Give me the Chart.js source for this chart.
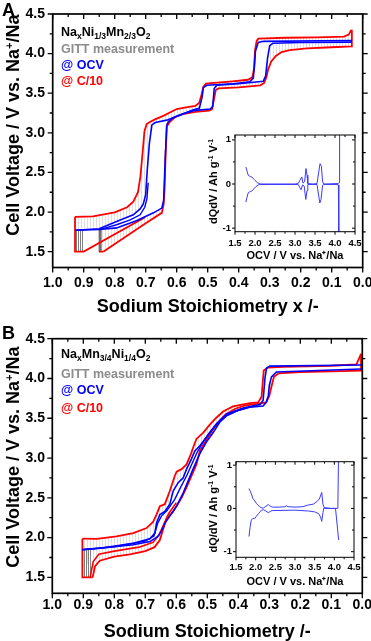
<!DOCTYPE html>
<html>
<head>
<meta charset="utf-8">
<script src="https://cdn.jsdelivr.net/npm/chart.js@4.4.1/dist/chart.umd.min.js"></script>
<style>
body{margin:0;background:#fff;}
#fig{position:relative;width:371px;height:641px;overflow:hidden;font-family:"Liberation Sans",Arial,sans-serif;font-weight:bold;color:#000;}
canvas{position:absolute;}
.leg{position:absolute;left:61px;white-space:nowrap;font-size:12.5px;line-height:14px;}
.leg sub{font-size:8.5px;line-height:0;vertical-align:-3px;}
.panel{position:absolute;left:2px;font-size:18px;line-height:18px;}
.yt{position:absolute;white-space:nowrap;text-align:center;transform:rotate(-90deg);}
.yt sup{font-size:0.62em;line-height:0;vertical-align:0.55em;}
</style>
</head>
<body>
<div id="fig">
  <canvas id="mainA" width="371" height="320" style="left:0;top:0"></canvas>
  <canvas id="insA" width="165" height="135" style="left:200px;top:128px"></canvas>
  <canvas id="mainB" width="371" height="321" style="left:0;top:320px"></canvas>
  <canvas id="insB" width="165" height="135" style="left:200px;top:454px"></canvas>

  <div class="panel" style="top:0.5px">A</div>
  <div class="leg" style="top:24.8px">Na<sub>x</sub>Ni<sub>1/3</sub>Mn<sub>2/3</sub>O<sub>2</sub></div>
  <div class="leg" style="top:41.5px;color:#8c8c8c">GITT measurement</div>
  <div class="leg" style="top:58.1px;color:#0000ff">@ OCV</div>
  <div class="leg" style="top:74.1px;color:#ff0000">@ C/10</div>
  <div class="yt" style="left:-117px;top:115px;width:260px;height:20px;line-height:20px;font-size:18px">Cell Voltage / V vs. Na<sup>+</sup>/Na</div>
  <div class="yt" style="left:158px;top:174.5px;width:110px;height:13px;line-height:13px;font-size:11px">dQdV / Ah g<sup>-1</sup> V<sup>-1</sup></div>

  <div class="panel" style="top:323.7px">B</div>
  <div class="leg" style="top:346.5px">Na<sub>x</sub>Mn<sub>3/4</sub>Ni<sub>1/4</sub>O<sub>2</sub></div>
  <div class="leg" style="top:366.5px;color:#8c8c8c">GITT measurement</div>
  <div class="leg" style="top:383.2px;color:#0000ff">@ OCV</div>
  <div class="leg" style="top:400.5px;color:#ff0000">@ C/10</div>
  <div class="yt" style="left:-117px;top:447px;width:260px;height:20px;line-height:20px;font-size:18px">Cell Voltage / V vs. Na<sup>+</sup>/Na</div>
  <div class="yt" style="left:158px;top:501.5px;width:110px;height:13px;line-height:13px;font-size:11px">dQ/dV / Ah g<sup>-1</sup> V<sup>-1</sup></div>
</div>
<script>
// tick labels
const stoichTicks = [0, 0.1, 0.2, 0.3, 0.4, 0.5, 0.6, 0.7, 0.8, 0.9, 1.0];
const voltTicks = [1.5, 2.0, 2.5, 3.0, 3.5, 4.0, 4.5];
const ocvTicks = [1.5, 2.0, 2.5, 3.0, 3.5, 4.0, 4.5];
const dqTicks = [-1, 0, 1];

// ---- panel A : NaxNi1/3Mn2/3O2 ----
const aRedChgX = [0.928,0.870,0.800,0.760,0.740,0.725,0.717,0.710,0.704,0.697,0.685,0.670,0.640,0.600,0.570,0.540,0.527,0.520,0.514,0.506,0.480,0.420,0.370,0.356,0.351,0.347,0.342,0.337,0.250,0.150,0.060,0.045,0.037];
const aRedChgY = [1.94,1.945,1.995,2.06,2.13,2.25,2.45,2.75,3.02,3.11,3.14,3.17,3.22,3.30,3.32,3.34,3.38,3.48,3.58,3.62,3.63,3.65,3.67,3.70,3.80,4.05,4.16,4.19,4.20,4.205,4.215,4.24,4.30];
const aRedDisX = [0.035,0.035,0.100,0.180,0.235,0.262,0.280,0.295,0.305,0.311,0.318,0.330,0.400,0.465,0.474,0.480,0.486,0.495,0.540,0.580,0.605,0.622,0.632,0.636,0.639,0.642,0.648,0.700,0.837];
const aRedDisY = [4.30,4.09,4.08,4.065,4.045,4.02,3.97,3.90,3.80,3.70,3.63,3.60,3.575,3.56,3.54,3.42,3.30,3.28,3.265,3.235,3.20,3.14,3.08,2.70,2.30,2.10,1.99,1.86,1.50];
const aRedStartX = [0.702,0.900,0.928,0.928];
const aRedStartY = [1.935,1.50,1.50,1.94];
const aRedTailX = [0.837,0.851];
const aRedTailY = [1.50,1.50];
const aBlueChgX = [0.928,0.850,0.794,0.740,0.718,0.708,0.700,0.695,0.688,0.680,0.669,0.632,0.600,0.546,0.527,0.518,0.514,0.503,0.417,0.364,0.353,0.349,0.346,0.337,0.320,0.035];
const aBlueChgY = [1.77,1.79,1.88,1.965,2.04,2.10,2.22,2.53,2.87,3.10,3.13,3.16,3.21,3.29,3.31,3.45,3.57,3.60,3.62,3.645,3.69,3.85,4.03,4.14,4.155,4.165];
const aBlueDisX = [0.035,0.200,0.290,0.300,0.307,0.313,0.321,0.400,0.471,0.479,0.484,0.492,0.546,0.578,0.611,0.627,0.632,0.637,0.642,0.648,0.675,0.730,0.794,0.850,0.928];
const aBlueDisY = [4.145,4.14,4.13,4.10,3.94,3.72,3.65,3.62,3.60,3.56,3.33,3.30,3.28,3.24,3.19,3.14,3.10,2.68,2.15,2.05,1.99,1.89,1.80,1.78,1.77];
const aBlueFirstX = [0.851,0.794,0.750,0.718,0.703,0.696,0.692];
const aBlueFirstY = [1.775,1.84,1.90,1.965,2.06,2.17,2.37];
const aRelaxX = [0.928,0.900];
const aRelaxY = [1.77,1.775];
const aRelaxLineX = [0.847,0.847];
const aRelaxLineY = [1.50,1.78];
// inset A : dQ/dV vs OCV
const aDqChgV = [1.77,1.80,1.83,1.88,1.92,1.97,2.00,2.06,2.13,2.50,3.00,3.08,3.12,3.17,3.20,3.24,3.275,3.30,3.32,3.45,3.55,3.59,3.625,3.66,3.69,3.72,4.08,4.105,4.115];
const aDqChg = [0.385,0.30,0.20,0.17,0.16,0.11,0.08,0.03,0.0,0.0,0.0,0.01,0.08,0.16,0.02,0.05,0.35,0.2,0.01,0.0,0.01,0.25,0.46,0.40,0.05,0.0,0.01,0.03,1.5];
const aDqDisV = [1.77,1.80,1.83,1.88,1.92,1.97,2.02,2.08,2.13,2.50,3.00,3.08,3.12,3.15,3.19,3.23,3.27,3.30,3.32,3.55,3.59,3.62,3.65,3.69,3.72,4.05,4.085,4.095];
const aDqDis = [-0.41,-0.30,-0.20,-0.17,-0.16,-0.11,-0.06,-0.02,-0.01,-0.01,-0.01,-0.01,-0.08,-0.13,-0.02,-0.05,-0.35,-0.15,-0.01,-0.01,-0.25,-0.43,-0.35,-0.03,-0.01,-0.01,-0.02,-1.5];

// ---- panel B : NaxMn3/4Ni1/4O2 ----
const bRedChgX = [0.903,0.857,0.793,0.739,0.696,0.675,0.664,0.653,0.637,0.621,0.605,0.599,0.583,0.567,0.553,0.543,0.535,0.513,0.492,0.470,0.449,0.417,0.363,0.336,0.325,0.318,0.304,0.255,0.100,0.019,0.004];
const bRedChgY = [1.986,1.985,2.015,2.057,2.12,2.196,2.29,2.395,2.42,2.585,2.775,2.83,2.86,2.92,3.05,3.16,3.24,3.32,3.42,3.51,3.585,3.65,3.69,3.70,3.77,4.10,4.138,4.146,4.16,4.176,4.31];
const bRedDisX = [0.004,0.004,0.100,0.200,0.270,0.285,0.293,0.300,0.310,0.340,0.380,0.410,0.440,0.460,0.480,0.500,0.515,0.524,0.535,0.551,0.567,0.583,0.610,0.632,0.643,0.653,0.670,0.700,0.750,0.800,0.847,0.862,0.870];
const bRedDisY = [4.31,4.10,4.09,4.08,4.065,4.02,3.90,3.78,3.70,3.68,3.66,3.62,3.55,3.47,3.37,3.25,3.15,3.09,2.92,2.775,2.63,2.50,2.33,2.23,2.10,1.97,1.88,1.83,1.79,1.76,1.71,1.64,1.50];
const bRedDis2X = [0.600,0.625,0.640,0.655,0.675,0.720,0.800,0.850,0.868,0.878];
const bRedDis2Y = [2.44,2.30,2.17,2.04,1.94,1.88,1.83,1.79,1.70,1.50];
const bRedEdgeX = [0.870,0.903,0.903];
const bRedEdgeY = [1.50,1.50,1.986];
const bBlueChgX = [0.903,0.847,0.739,0.685,0.669,0.664,0.653,0.637,0.621,0.610,0.594,0.578,0.567,0.551,0.540,0.524,0.503,0.470,0.438,0.384,0.330,0.320,0.314,0.309,0.298,0.004];
const bBlueChgY = [1.847,1.867,1.93,1.986,2.057,2.18,2.29,2.33,2.42,2.585,2.69,2.75,2.86,2.99,3.09,3.155,3.26,3.43,3.555,3.63,3.673,3.724,4.00,4.13,4.155,4.17];
const bBlueDisX = [0.004,0.277,0.293,0.300,0.303,0.310,0.320,0.363,0.406,0.438,0.460,0.481,0.503,0.524,0.546,0.562,0.578,0.599,0.621,0.637,0.648,0.659,0.685,0.739,0.847,0.903];
const bBlueDisY = [4.12,4.082,4.02,3.914,3.787,3.70,3.655,3.64,3.59,3.53,3.45,3.32,3.20,3.055,2.86,2.71,2.56,2.395,2.27,2.18,2.08,2.015,1.95,1.91,1.867,1.847];
const bBlueMidX = [0.903,0.800,0.700,0.672,0.660,0.648,0.630,0.605,0.585,0.565,0.548,0.533,0.515,0.495,0.470,0.440,0.400,0.350];
const bBlueMidY = [1.85,1.885,1.955,2.02,2.18,2.27,2.34,2.48,2.64,2.79,2.94,3.07,3.19,3.31,3.43,3.53,3.60,3.655];
const bRelaxX = [0.903,0.872];
const bRelaxY = [1.847,1.85];
// inset B
const bDqChgV = [1.83,1.88,1.93,1.98,2.02,2.10,2.16,2.20,2.26,2.32,2.36,2.42,2.60,2.74,2.78,2.82,3.00,3.20,3.34,3.47,3.56,3.62,3.68,3.71,3.74,3.90,4.07,4.09,4.11];
const bDqChg = [0.46,0.36,0.23,0.17,0.115,0.04,0.01,0.01,0.05,0.09,0.06,0.03,0.03,0.04,0.06,0.04,0.03,0.04,0.08,0.10,0.16,0.22,0.37,0.10,0.02,0.0,0.0,0.05,1.5];
const bDqDisV = [1.83,1.86,1.89,1.93,1.98,2.02,2.07,2.15,2.20,2.26,2.32,2.37,2.42,3.00,3.34,3.50,3.60,3.65,3.68,3.71,3.73,4.00,4.03,4.11];
const bDqDis = [-0.65,-0.42,-0.27,-0.23,-0.23,-0.18,-0.12,-0.04,-0.03,-0.06,-0.10,-0.07,-0.05,-0.04,-0.06,-0.08,-0.12,-0.20,-0.30,-0.10,0.0,0.0,0.0,-0.73];

Chart.defaults.font.family = '"Liberation Sans", Arial, sans-serif';
Chart.defaults.font.weight = 'bold';
Chart.defaults.color = '#000';

const RED = '#ff0000', BLUE = '#0000ff', INSET_BLUE = '#3b3bff';

// vertical-line pattern used for the GITT relaxation hatching
function hatch(color, step) {
  const c = document.createElement('canvas');
  c.width = step; c.height = 2;
  const g = c.getContext('2d');
  g.fillStyle = color;
  g.fillRect(0, 0, 1, 2);
  return g.createPattern(c, 'repeat');
}
const lightHatch = hatch('rgba(150,150,150,0.3)', 3);
const darkHatch = hatch('rgb(125,125,125)', 2);

const pts = (xs, ys) => xs.map((x, i) => ({x: x, y: ys[i]}));
function line(xs, ys, color, width, extra) {
  return Object.assign({data: pts(xs, ys), borderColor: color, borderWidth: width,
    pointRadius: 0, tension: 0, fill: false}, extra || {});
}

// pairs each tick value with a flag, plus a minor tick halfway between
function withMinor(vals) {
  const out = [];
  vals.forEach((v, i) => {
    out.push([v, true]);
    if (i < vals.length - 1) out.push([(v + vals[i + 1]) / 2, false]);
  });
  return out;
}

// box frame + ticks on all four sides
const frameTicks = {
  id: 'frameTicks',
  afterDatasetsDraw(chart, args, o) {
    const {ctx, chartArea: a, scales: {x, y}} = chart;
    ctx.save();
    ctx.strokeStyle = '#000';
    ctx.lineWidth = o.tw;
    ctx.beginPath();
    withMinor(x.ticks.map(t => t.value)).forEach(([v, major]) => {
      const p = x.getPixelForValue(v), l = major ? o.major : o.minor;
      ctx.moveTo(p, a.bottom); ctx.lineTo(p, a.bottom + l);
      ctx.moveTo(p, a.top); ctx.lineTo(p, a.top + (o.topIn ? l : -l));
    });
    withMinor(y.ticks.map(t => t.value)).forEach(([v, major]) => {
      const p = y.getPixelForValue(v), l = major ? o.major : o.minor;
      ctx.moveTo(a.left, p); ctx.lineTo(a.left - l, p);
      ctx.moveTo(a.right, p); ctx.lineTo(a.right + (o.rightIn ? -l : l), p);
    });
    ctx.stroke();
    ctx.lineWidth = o.lw;
    ctx.strokeRect(a.left, a.top, a.right - a.left, a.bottom - a.top);
    ctx.restore();
  }
};

function mainChart(id, sets, o) {
  return new Chart(document.getElementById(id), {
    type: 'line',
    data: {datasets: sets},
    options: {
      responsive: false, animation: false, events: [],
      layout: {padding: {top: o.top, right: o.right, bottom: 0, left: 0}},
      plugins: {
        legend: {display: false}, tooltip: {enabled: false},
        filler: {drawTime: 'beforeDatasetsDraw'},
        frameTicks: {lw: 1.7, tw: 1.3, major: 5, minor: 3, topIn: true, rightIn: false}
      },
      scales: {
        x: {
          type: 'linear', reverse: true, min: 0, max: 1,
          grid: {display: false, drawTicks: false}, border: {display: false},
          afterBuildTicks: s => { s.ticks = stoichTicks.map(v => ({value: v})); },
          afterFit: s => { s.height = o.xH; s.paddingLeft = 0; s.paddingRight = 0; },
          ticks: {padding: o.xPad, maxRotation: 0, autoSkip: false,
            font: {size: 14, weight: 'bold'}, callback: v => v.toFixed(1)},
          title: {display: true, text: o.xTitle, color: '#000',
            font: {size: 18, weight: 'bold', lineHeight: 1}, padding: {top: 0, bottom: o.tPad}}
        },
        y: {
          type: 'linear', min: 1.3, max: 4.5,
          grid: {display: false, drawTicks: false}, border: {display: false},
          afterBuildTicks: s => { s.ticks = voltTicks.map(v => ({value: v})); },
          afterFit: s => { s.width = o.yW; s.paddingTop = 0; s.paddingBottom = 0; },
          ticks: {padding: o.yPad, autoSkip: false, font: {size: 14, weight: 'bold'},
            callback: v => v.toFixed(1)}
        }
      }
    },
    plugins: [frameTicks]
  });
}

function insetChart(id, sets, o) {
  return new Chart(document.getElementById(id), {
    type: 'line',
    data: {datasets: sets},
    options: {
      responsive: false, animation: false, events: [],
      layout: {padding: {top: o.top, right: o.right, bottom: 0, left: 0}},
      plugins: {
        legend: {display: false}, tooltip: {enabled: false},
        frameTicks: {lw: 1, tw: 1, major: 3, minor: 2, topIn: true, rightIn: true}
      },
      scales: {
        x: {
          type: 'linear', min: 1.5, max: 4.5,
          grid: {display: false, drawTicks: false}, border: {display: false},
          afterBuildTicks: s => { s.ticks = ocvTicks.map(v => ({value: v})); },
          afterFit: s => { s.height = o.xH; s.paddingLeft = 0; s.paddingRight = 0; },
          ticks: {padding: o.xPad, maxRotation: 0, autoSkip: false,
            font: {size: 9.5, weight: 'bold'}, callback: v => v.toFixed(1)},
          title: {display: true, text: 'OCV / V vs. Na\u207A/Na', color: '#000',
            font: {size: 11, weight: 'bold', lineHeight: 1}, padding: {top: 0, bottom: o.tPad}}
        },
        y: {
          type: 'linear', min: o.yMin, max: o.yMax,
          grid: {display: false, drawTicks: false}, border: {display: false},
          afterBuildTicks: s => { s.ticks = dqTicks.map(v => ({value: v})); },
          afterFit: s => { s.width = o.yW; s.paddingTop = 0; s.paddingBottom = 0; },
          ticks: {padding: 4, autoSkip: false, font: {size: 9.5, weight: 'bold'},
            callback: v => String(v)}
        }
      }
    },
    plugins: [frameTicks]
  });
}

// panel A: index 0 = top-most line
mainChart('mainA', [
  line(aBlueChgX, aBlueChgY, BLUE, 1.6),
  line(aBlueDisX, aBlueDisY, BLUE, 1.6, {fill: 4, backgroundColor: lightHatch}),
  line(aBlueFirstX, aBlueFirstY, BLUE, 1.4),
  line(aRedChgX, aRedChgY, RED, 1.8, {fill: 0, backgroundColor: lightHatch}),
  line(aRedDisX, aRedDisY, RED, 1.8),
  line(aRedStartX, aRedStartY, RED, 1.8),
  line(aRedTailX, aRedTailY, RED, 1.8),
  line(aRelaxX, aRelaxY, 'rgba(0,0,0,0)', 0, {fill: {value: 1.5}, backgroundColor: darkHatch}),
  line(aRelaxLineX, aRelaxLineY, '#6e6e6e', 3)
], {top: 14, right: 8.3, xH: 52.5, yW: 52.7, xPad: 7.5, yPad: 7.7, tPad: 4.3,
    xTitle: 'Sodium Stoichiometry x /-'});

insetChart('insA', [
  line(aDqChgV, aDqChg, INSET_BLUE, 1),
  line(aDqDisV, aDqDis, INSET_BLUE, 1)
], {top: 7, right: 10, xH: 31.3, yW: 35, xPad: 6, tPad: 1.5, yMin: -1.08, yMax: 1.11});

// panel B
mainChart('mainB', [
  line(bBlueChgX, bBlueChgY, BLUE, 1.6),
  line(bBlueDisX, bBlueDisY, BLUE, 1.6, {fill: 4, backgroundColor: lightHatch}),
  line(bBlueMidX, bBlueMidY, BLUE, 1.4),
  line(bRedChgX, bRedChgY, RED, 1.8, {fill: 0, backgroundColor: lightHatch}),
  line(bRedDisX, bRedDisY, RED, 1.8),
  line(bRedDis2X, bRedDis2Y, RED, 1.6),
  line(bRedEdgeX, bRedEdgeY, RED, 1.8),
  line(bRelaxX, bRelaxY, 'rgba(0,0,0,0)', 0, {fill: {value: 1.5}, backgroundColor: darkHatch})
], {top: 18.7, right: 8.7, xH: 47.7, yW: 52.3, xPad: 3.5, yPad: 7.3, tPad: 0.3,
    xTitle: 'Sodium Stoichiometry /-'});

insetChart('insB', [
  line(bDqChgV, bDqChg, INSET_BLUE, 1),
  line(bDqDisV, bDqDis, INSET_BLUE, 1)
], {top: 7.7, right: 11, xH: 31.7, yW: 36, xPad: 4.5, tPad: 1.8, yMin: -1.13, yMax: 1.08});
</script>
</body>
</html>
